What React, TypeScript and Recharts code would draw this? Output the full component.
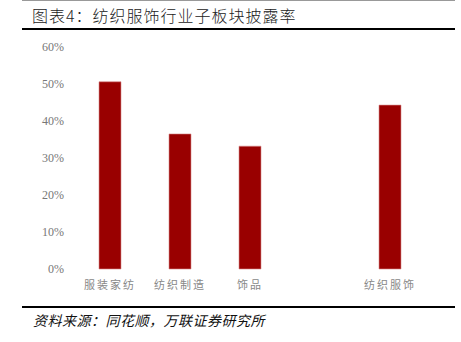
import { BarChart, Bar, XAxis, YAxis } from "recharts";

const categories = ["服装家纺", "纺织制造", "饰品", "", "纺织服饰"];
const disclosureRate = [50.6, 36.5, 33.2, null, 44.3];
const yTicks = [0, 10, 20, 30, 40, 50, 60];

const data = categories.map((name, i) => ({ name, rate: disclosureRate[i] }));

const serif = "'Liberation Serif', 'DejaVu Serif', serif";
const cjk = "'Noto Sans CJK SC', sans-serif";

export default function App() {
  return (
    <div style={{ position: "absolute", left: 0, top: 0, width: 461, height: 342, background: "#fff" }}>
      <div style={{ position: "absolute", left: 22, top: 0, width: 433, height: 1, background: "#999" }} />
      <div
        style={{
          position: "absolute",
          left: 32,
          top: 4,
          fontFamily: cjk,
          fontSize: 16,
          fontWeight: 300,
          color: "#222",
          whiteSpace: "nowrap",
          lineHeight: "22px",
          letterSpacing: 1,
        }}
      >
        图表4：纺织服饰行业子板块披露率
      </div>
      <div style={{ position: "absolute", left: 22, top: 28, width: 433, height: 2, background: "#000" }} />

      <div style={{ position: "absolute", left: 0, top: 0 }}>
        <BarChart width={461} height={300} data={data} margin={{ top: 47, right: 36, left: 0, bottom: 1 }}>
          <XAxis
            dataKey="name"
            axisLine={false}
            tickLine={false}
            tickMargin={6}
            height={30}
            interval={0}
            tick={{ fill: "#888", fontSize: 11, fontFamily: cjk, letterSpacing: 2 }}
          />
          <YAxis
            width={75}
            domain={[0, 60]}
            ticks={yTicks}
            axisLine={false}
            tickLine={false}
            tickMargin={5}
            tickFormatter={(v: number) => `${v}%`}
            tick={{ fill: "#777", fontSize: 12, fontFamily: serif }}
          />
          <Bar dataKey="rate" fill="#990000" stroke="#d98c8c" strokeWidth={0.6} barSize={22} isAnimationActive={false} />
        </BarChart>
      </div>

      <div style={{ position: "absolute", left: 22, top: 306, width: 433, height: 2, background: "#000" }} />
      <div
        style={{
          position: "absolute",
          left: 33,
          top: 310,
          fontFamily: cjk,
          fontStyle: "italic",
          fontSize: 14,
          color: "#111",
          whiteSpace: "nowrap",
          lineHeight: "20px",
          letterSpacing: 0.5,
        }}
      >
        资料来源：同花顺，万联证券研究所
      </div>
    </div>
  );
}
